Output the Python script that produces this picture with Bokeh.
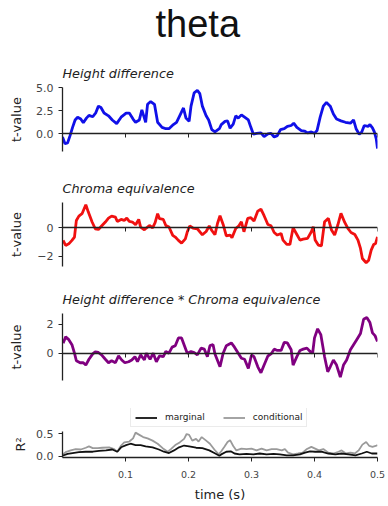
from bokeh.plotting import figure
from bokeh.layouts import column
from bokeh.models import Title, Legend, LegendItem, FixedTicker, Range1d
from bokeh.embed import file_html
from bokeh.resources import INLINE

# ---------------- data ----------------
t_height = [0.000, 0.004, 0.008, 0.012, 0.016, 0.020, 0.024, 0.029, 0.033, 0.038,
            0.042, 0.048, 0.053, 0.057, 0.061, 0.066, 0.073, 0.079, 0.086, 0.093,
            0.101, 0.106, 0.112, 0.116, 0.122, 0.126, 0.130, 0.132, 0.135, 0.140,
            0.146, 0.151, 0.158, 0.164, 0.169, 0.176, 0.181, 0.186, 0.192, 0.196,
            0.201, 0.204, 0.209, 0.214, 0.218, 0.222, 0.228, 0.232, 0.237, 0.242,
            0.249, 0.252, 0.258, 0.262, 0.266, 0.271, 0.275, 0.279, 0.284, 0.289,
            0.295, 0.299, 0.303, 0.308, 0.315, 0.320, 0.326, 0.331, 0.336, 0.341,
            0.346, 0.352, 0.357, 0.363, 0.367, 0.372, 0.379, 0.384, 0.389, 0.395,
            0.400, 0.404, 0.409, 0.414, 0.419, 0.425, 0.430, 0.435, 0.442, 0.449,
            0.457, 0.462, 0.466, 0.471, 0.475, 0.479, 0.485, 0.488, 0.492, 0.495,
            0.498, 0.500]
height_diff = [-0.35, -1.07, -1.0, -0.2, 0.7, 1.5, 1.8, 1.6, 1.2, 1.7,
               2.0, 1.85, 2.3, 3.0, 2.85, 2.25, 1.95, 1.5, 1.1, 1.8,
               2.25, 2.25, 1.6, 1.25, 1.5, 2.6, 1.7, 1.25, 3.2, 3.5,
               3.2, 1.25, 0.7, 0.55, 0.55, 1.0, 1.25, 1.95, 2.8, 1.7,
               1.35, 3.0, 4.45, 4.7, 4.35, 3.0, 1.95, 1.5, 0.45, 0.2,
               0.55, 1.0, 1.35, 1.4, 0.6, 1.05, 1.95, 1.7, 2.05, 1.8,
               1.5, 0.7, -0.05, 0.05, 0.1, -0.3, 0.0, 0.05, -0.35, -0.2,
               0.45, 0.55, 0.8, 0.9, 1.15, 0.7, 0.35, 0.3, 0.1, 0.2,
               0.05, 0.35, 1.8, 3.0, 3.4, 3.0, 2.15, 1.6, 1.4, 1.25,
               1.15, 1.5, 0.55, -0.05, 0.2, 0.9, 0.8, 1.0, 0.65, 0.2,
               -0.55, -1.6]

t_chroma = [0.001, 0.005, 0.010, 0.015, 0.019, 0.022, 0.026, 0.031, 0.037, 0.041,
            0.047, 0.052, 0.057, 0.062, 0.068, 0.073, 0.078, 0.084, 0.087, 0.093,
            0.098, 0.102, 0.106, 0.111, 0.116, 0.121, 0.124, 0.130, 0.133, 0.138,
            0.143, 0.147, 0.151, 0.154, 0.160, 0.164, 0.169, 0.175, 0.179, 0.184,
            0.189, 0.195, 0.198, 0.202, 0.207, 0.214, 0.222, 0.228, 0.233, 0.237,
            0.242, 0.246, 0.250, 0.255, 0.260, 0.266, 0.269, 0.275, 0.280, 0.284,
            0.288, 0.294, 0.299, 0.304, 0.310, 0.315, 0.320, 0.326, 0.331, 0.336,
            0.341, 0.347, 0.350, 0.356, 0.361, 0.366, 0.372, 0.377, 0.382, 0.389,
            0.395, 0.398, 0.401, 0.406, 0.411, 0.416, 0.422, 0.427, 0.432, 0.437,
            0.442, 0.448, 0.453, 0.458, 0.464, 0.469, 0.473, 0.476, 0.482, 0.486,
            0.490, 0.494, 0.497, 0.500]
chroma_equiv = [-0.88, -1.23, -1.12, -0.88, -0.65, 0.51, 0.81, 0.98, 1.6, 1.09,
                0.4, -0.07, -0.12, 0.12, 0.4, 0.67, 0.81, 0.74, 0.44, 0.58,
                0.51, 0.67, 0.44, 0.4, 0.21, 0.58, 0.05, -0.14, -0.02, 0.16,
                0.0, 0.35, 0.98, 0.63, 0.58, 0.16, 0.05, -0.53, -0.65, -0.88,
                -1.07, -0.77, -0.3, 0.12, -0.02, -0.07, -0.49, -0.26, 0.12, -0.19,
                -0.49, 0.3, 0.84, 0.23, -0.56, -0.51, -0.7, -0.05, 0.14, 0.42,
                -0.28, 0.65, 0.7, 0.47, 1.16, 1.3, 0.84, 0.23, 0.14, -0.33,
                -0.51, -0.4, -0.86, -1.16, -1.16, 0.0, -0.47, -0.86, -0.79, -0.74,
                -0.28, 0.07, -0.86, -1.21, -1.26, 0.42, 0.65, -0.16, -0.51, 0.19,
                1.0, 0.37, -0.05, -0.33, -0.47, -0.86, -1.44, -2.14, -2.44, -2.26,
                -1.56, -1.16, -1.09, -0.63]

t_inter = [0.001, 0.005, 0.010, 0.015, 0.019, 0.022, 0.028, 0.033, 0.037, 0.042,
           0.048, 0.052, 0.057, 0.062, 0.068, 0.073, 0.078, 0.084, 0.089, 0.094,
           0.099, 0.105, 0.110, 0.115, 0.119, 0.124, 0.130, 0.133, 0.139, 0.144,
           0.149, 0.154, 0.160, 0.164, 0.169, 0.174, 0.179, 0.184, 0.189, 0.194,
           0.198, 0.204, 0.209, 0.214, 0.220, 0.225, 0.230, 0.234, 0.239, 0.242,
           0.250, 0.255, 0.260, 0.268, 0.273, 0.279, 0.284, 0.289, 0.295, 0.300,
           0.304, 0.310, 0.315, 0.320, 0.326, 0.331, 0.336, 0.341, 0.347, 0.352,
           0.357, 0.363, 0.366, 0.372, 0.377, 0.382, 0.388, 0.393, 0.397, 0.400,
           0.405, 0.410, 0.416, 0.421, 0.425, 0.430, 0.435, 0.441, 0.446, 0.451,
           0.457, 0.462, 0.467, 0.473, 0.478, 0.483, 0.488, 0.492, 0.496, 0.500]
interaction = [0.7, 1.13, 0.94, 0.59, 0.0, -0.52, -0.66, -0.66, -0.82, -0.42,
               -0.05, 0.09, 0.05, -0.12, -0.42, -0.66, -0.52, -0.66, -0.19, -0.47,
               -0.66, -0.59, -0.47, -0.24, -0.59, -0.12, -0.47, 0.0, -0.42, 0.0,
               -0.59, -0.19, -0.24, 0.12, 0.0, 0.42, 0.52, 1.06, 1.06, 0.47,
               0.0, 0.12, 0.05, -0.12, 0.35, 0.28, -0.24, 0.52, 0.59, -0.05,
               -0.94, 0.0, 0.52, 0.71, 0.42, 0.0, -0.35, -0.42, -1.06, -0.12,
               -0.24, -0.94, -1.36, -0.82, -0.19, -0.05, 0.28, 0.19, 0.19, 0.75,
               0.71, 0.24, -0.82, -0.24, 0.19, 0.28, 0.35, 0.12, 0.0, 1.06,
               1.69, 1.29, -0.24, -1.29, -0.94, -0.47, -0.82, -1.65, -0.82, -0.47,
               0.24, 0.59, 0.94, 1.36, 2.35, 2.47, 2.12, 1.41, 1.22, 0.82]

t_conditional = [0.000, 0.005, 0.013, 0.021, 0.029, 0.037, 0.042, 0.048, 0.056, 0.063,
                 0.074, 0.082, 0.087, 0.093, 0.098, 0.106, 0.112, 0.116, 0.122, 0.128,
                 0.135, 0.143, 0.151, 0.159, 0.167, 0.172, 0.179, 0.186, 0.193, 0.197,
                 0.201, 0.206, 0.212, 0.216, 0.221, 0.228, 0.234, 0.241, 0.248, 0.252,
                 0.257, 0.262, 0.266, 0.271, 0.276, 0.284, 0.292, 0.300, 0.308, 0.316,
                 0.324, 0.332, 0.340, 0.348, 0.353, 0.358, 0.366, 0.374, 0.381, 0.388,
                 0.395, 0.401, 0.407, 0.414, 0.422, 0.430, 0.438, 0.443, 0.450, 0.457,
                 0.464, 0.470, 0.476, 0.482, 0.487, 0.492, 0.497, 0.500]
r2_conditional = [0.03, 0.09, 0.13, 0.16, 0.15, 0.19, 0.22, 0.18, 0.18, 0.19,
                  0.2, 0.16, 0.1, 0.24, 0.31, 0.33, 0.4, 0.53, 0.48, 0.43,
                  0.4, 0.35, 0.28, 0.18, 0.1, 0.16, 0.25, 0.31, 0.39, 0.5,
                  0.48, 0.35, 0.39, 0.33, 0.43, 0.35, 0.28, 0.15, 0.04, 0.11,
                  0.21, 0.32, 0.36, 0.23, 0.13, 0.17, 0.16, 0.17, 0.13, 0.17,
                  0.13, 0.16, 0.16, 0.13, 0.16, 0.08, 0.04, 0.06, 0.08, 0.16,
                  0.21, 0.17, 0.13, 0.16, 0.08, 0.06, 0.1, 0.13, 0.06, 0.08,
                  0.06, 0.13, 0.26, 0.32, 0.23, 0.21, 0.23, 0.25]

t_marginal = [0.000, 0.008, 0.016, 0.026, 0.037, 0.048, 0.058, 0.069, 0.079, 0.087,
              0.093, 0.101, 0.108, 0.116, 0.124, 0.132, 0.143, 0.153, 0.161, 0.169,
              0.177, 0.185, 0.193, 0.201, 0.212, 0.222, 0.233, 0.241, 0.249, 0.252,
              0.260, 0.267, 0.273, 0.281, 0.292, 0.303, 0.313, 0.324, 0.335, 0.345,
              0.356, 0.366, 0.377, 0.385, 0.393, 0.401, 0.411, 0.422, 0.433, 0.443,
              0.454, 0.465, 0.475, 0.483, 0.491, 0.500]
r2_marginal = [0.01, 0.05, 0.07, 0.09, 0.1, 0.1, 0.12, 0.13, 0.15, 0.1,
               0.2, 0.25, 0.28, 0.25, 0.25, 0.22, 0.2, 0.15, 0.1, 0.07,
               0.13, 0.2, 0.24, 0.22, 0.19, 0.18, 0.13, 0.07, 0.01, 0.04,
               0.1, 0.11, 0.06, 0.04, 0.05, 0.04, 0.06, 0.04, 0.05, 0.04,
               0.02, 0.02, 0.04, 0.08, 0.11, 0.1, 0.1, 0.06, 0.04, 0.06,
               0.04, 0.02, 0.06, 0.1, 0.06, 0.06]

main_title = "theta"
panel_titles = ["Height difference", "Chroma equivalence",
                "Height difference * Chroma equivalence"]
x_ticks = [0.1, 0.2, 0.3, 0.4, 0.5]
x_tick_labels = ["0.1", "0.2", "0.3", "0.4", "0.5"]

FONT = "DejaVu Sans"
W = 386


def panel(height, top, bottom, yr, yticks, ylabels, ylabel, lab_standoff, show_x,
          bounds=None):
    p = figure(width=W, height=height, min_border_left=62, min_border_right=9,
               min_border_top=top, min_border_bottom=bottom,
               x_range=Range1d(0, 0.5), y_range=Range1d(*yr),
               output_backend="svg", toolbar_location=None)
    p.grid.visible = False
    p.outline_line_color = None
    p.border_fill_color = "white"
    ya = p.yaxis[0]
    ya.ticker = FixedTicker(ticks=yticks)
    ya.major_label_overrides = {k: v for k, v in zip(yticks, ylabels)}
    if bounds is not None:
        ya.bounds = bounds
    if ylabel:
        ya.axis_label = ylabel
        ya.axis_label_text_font = FONT
        ya.axis_label_text_font_style = "normal"
        ya.axis_label_text_font_size = "13px"
        ya.axis_label_text_color = "#222222"
        ya.axis_label_standoff = lab_standoff
    ya.major_label_text_font = FONT
    ya.major_label_text_font_size = "11px"
    ya.major_label_text_color = "#444444"
    ya.major_label_standoff = 5
    ya.major_tick_in = 0
    ya.major_tick_out = 4
    ya.minor_tick_out = 0
    ya.minor_tick_in = 0
    ya.axis_line_color = "#222222"
    ya.major_tick_line_color = "#222222"
    ya.axis_line_width = 1.3
    xa = p.xaxis[0]
    xa.ticker = FixedTicker(ticks=x_ticks)
    xa.major_label_overrides = {k: v for k, v in zip(x_ticks, x_tick_labels)}
    xa.major_tick_in = 0
    xa.major_tick_out = 4
    xa.minor_tick_out = 0
    xa.minor_tick_in = 0
    xa.axis_line_color = "#222222"
    xa.major_tick_line_color = "#222222"
    xa.axis_line_width = 1.3
    if show_x:
        xa.major_label_text_font = FONT
        xa.major_label_text_font_size = "9.5px"
        xa.major_label_text_color = "#444444"
        xa.major_label_standoff = 9
        xa.axis_label = "time (s)"
        xa.axis_label_text_font = FONT
        xa.axis_label_text_font_style = "normal"
        xa.axis_label_text_font_size = "13px"
        xa.axis_label_text_color = "#222222"
        xa.axis_label_standoff = 6
    else:
        xa.fixed_location = 0
        xa.major_label_text_font_size = "1px"
        xa.major_label_text_color = None
        xa.major_label_standoff = 0
    return p


def subtitle(p, text):
    p.add_layout(Title(text=text, text_font=FONT, text_font_style="italic",
                       text_font_size="12.8px", text_color="#222222",
                       align="left", standoff=13), "above")


# title figure
p0 = figure(width=W, height=56, min_border=0, output_backend="svg",
            toolbar_location=None, x_range=Range1d(0, 1), y_range=Range1d(0, 1),
            x_axis_location=None, y_axis_location=None)
p0.grid.visible = False
p0.outline_line_color = None
p0.title.text = main_title
p0.title.align = "left"
p0.title.offset = 93
p0.title.text_font = "Liberation Sans"
p0.title.text_font_style = "normal"
p0.title.text_font_size = "38px"
p0.title.text_color = "#111111"
p0.title.standoff = 0

p1 = panel(109, 31, 14, (-1.92, 5.02), [0, 2.5, 5], ["0.0", "2.5", "5.0"],
           "t-value", 9, False)
subtitle(p1, panel_titles[0])
p1.line(t_height, height_diff, line_width=2.8, color="#1010e8")

p2 = panel(110, 37, 9, (-2.7, 1.76), [-2, 0], ["\u22122", "0"],
           "t-value", 10, False)
subtitle(p2, panel_titles[1])
p2.line(t_chroma, chroma_equiv, line_width=2.8, color="#f01010")

p3 = panel(115, 38, 10, (-1.89, 2.75), [0, 2], ["0", "2"],
           "t-value", 20, False)
subtitle(p3, panel_titles[2])
p3.line(t_inter, interaction, line_width=2.8, color="#800080")

# R^2 panel: frame extends up to hold the legend; the axis line is bounded
p4 = panel(115, 18, 48, (-0.03, 1.074), [0, 0.5], ["0.0", "0.5"],
           None, 0, True, bounds=(-0.03, 0.55))
p4.add_layout(Title(text="R\u00b2", text_font=FONT, text_font_style="normal",
                    text_font_size="13px", text_color="#222222",
                    align="left", offset=6, standoff=12), "left")
rc = p4.line(t_conditional, r2_conditional, line_width=1.8, color="#9a9a9a")
rm = p4.line(t_marginal, r2_marginal, line_width=1.8, color="#111111")
legend = Legend(items=[LegendItem(label="marginal", renderers=[rm]),
                       LegendItem(label="conditional", renderers=[rc])],
                orientation="horizontal", location=(68, 30),
                label_text_font=FONT, label_text_font_size="9px",
                label_text_color="#222222", glyph_width=22, glyph_height=9,
                label_standoff=8, spacing=18, padding=4, margin=0,
                border_line_color="#d8d8d8", border_line_width=1,
                background_fill_color="white")
p4.add_layout(legend, "center")

layout = column(p0, p1, p2, p3, p4, spacing=0)
open("out.html", "w").write(file_html(layout, INLINE))
